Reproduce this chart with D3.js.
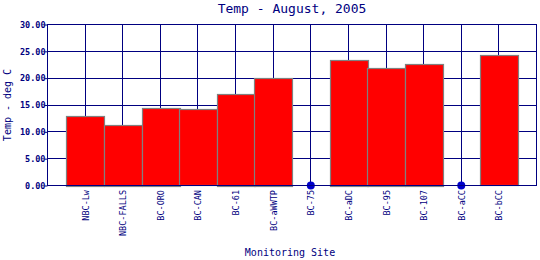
<!DOCTYPE html>
<head>
  <meta charset="utf-8">
  <script src="https://d3js.org/d3.v7.min.js"></script>
  <style>
    body { margin:0; background-color:#ffffff; }
    text { font-family: "DejaVu Sans Mono", monospace; fill: #000080; }
  </style>
</head>
<body>
<div class="chart-container"></div>
<script>
// sites along the x axis
var sites = ["NBC-Lw", "NBC-FALLS", "BC-ORO", "BC-CAN", "BC-61", "BC-aWWTP",
             "BC-75", "BC-aDC", "BC-95", "BC-107", "BC-aCC", "BC-bCC"];
// mean temperature, deg C (null = no data, drawn as dot on zero)
var temps = [13.0, 11.3, 14.5, 14.2, 17.1, 20.1, null, 23.4, 21.9, 22.7, null, 24.3];
var yTicks = [0, 5, 10, 15, 20, 25, 30];

var width = 540, height = 260;
// plot box (note: "top" is taken by window.top, so use plotTop)
var plotLeft = 47.5, plotRight = 536.5, plotTop = 24.5, plotBottom = 185.5;

var svg = d3.select(".chart-container").append("svg")
  .attr("width", width)
  .attr("height", height);

var xScale = d3.scalePoint()
  .domain(sites)
  .range([plotLeft, plotRight])
  .padding(1);
var step = xScale.step();

var yScale = d3.scaleLinear()
  .domain([0, 30])
  .range([plotBottom, plotTop]);

var grid = svg.append("g");
grid.selectAll("line.h")
  .data(yTicks)
  .enter().append("line")
  .attr("x1", plotLeft).attr("x2", plotRight)
  .attr("y1", function(d) { return Math.round(yScale(d) - 0.5) + 0.5; })
  .attr("y2", function(d) { return Math.round(yScale(d) - 0.5) + 0.5; })
  .attr("stroke", "#000080");
grid.selectAll("line.v")
  .data(sites)
  .enter().append("line")
  .attr("x1", function(d) { return Math.round(xScale(d) - 0.5) + 0.5; })
  .attr("x2", function(d) { return Math.round(xScale(d) - 0.5) + 0.5; })
  .attr("y1", plotTop).attr("y2", plotBottom)
  .attr("stroke", "#000080");

var data = sites.map(function(s, i) { return { site: s, temp: temps[i] }; });

svg.selectAll("rect.bar")
  .data(data.filter(function(d) { return d.temp != null; }))
  .enter().append("rect")
  .attr("class", "bar")
  .attr("x", function(d) { return Math.round(xScale(d.site) - step / 2) + 0.5; })
  .attr("width", Math.round(step))
  .attr("y", function(d) { return Math.round(yScale(d.temp)) + 0.5; })
  .attr("height", function(d) { return Math.round(plotBottom - yScale(d.temp)); })
  .attr("fill", "#ff0000")
  .attr("stroke", "#808080")
  .attr("stroke-width", 1.2);

svg.selectAll("circle.nodata")
  .data(data.filter(function(d) { return d.temp == null; }))
  .enter().append("circle")
  .attr("cx", function(d) { return xScale(d.site); })
  .attr("cy", yScale(0))
  .attr("r", 4)
  .attr("fill", "#0000cc");

// frame
svg.append("rect")
  .attr("x", plotLeft).attr("y", plotTop)
  .attr("width", plotRight - plotLeft).attr("height", plotBottom - plotTop)
  .attr("fill", "none")
  .attr("stroke", "#000080");

// y axis
var yAxis = d3.axisLeft(yScale)
  .tickValues(yTicks)
  .tickSize(3)
  .tickFormat(d3.format(".2f"));
var gy = svg.append("g")
  .attr("transform", "translate(" + plotLeft + ",0)")
  .call(yAxis);
gy.select(".domain").remove();
gy.selectAll(".tick line").attr("stroke", "#000080");
gy.selectAll(".tick text")
  .attr("x", -2)
  .style("font-family", "DejaVu Sans Mono, monospace")
  .style("font-size", "8.5px")
  .style("font-weight", "bold")
  .attr("fill", "#000080");

// x labels
svg.selectAll("text.xl")
  .data(sites)
  .enter().append("text")
  .attr("transform", function(d) {
    return "translate(" + (xScale(d) + 3.5) + ",190) rotate(-90)";
  })
  .attr("text-anchor", "end")
  .style("font-size", "8.5px")
  .text(function(d) { return d; });

svg.append("text")
  .attr("x", (plotLeft + plotRight) / 2)
  .attr("y", 13)
  .attr("text-anchor", "middle")
  .style("font-size", "13px")
  .text("Temp - August, 2005");

svg.append("text")
  .attr("x", (plotLeft + plotRight) / 2 - 2)
  .attr("y", 256)
  .attr("text-anchor", "middle")
  .style("font-size", "10px")
  .text("Monitoring Site");

svg.append("text")
  .attr("transform", "translate(11," + ((plotTop + plotBottom) / 2) + ") rotate(-90)")
  .attr("text-anchor", "middle")
  .style("font-size", "10px")
  .text("Temp - deg C");
</script>
</body>
